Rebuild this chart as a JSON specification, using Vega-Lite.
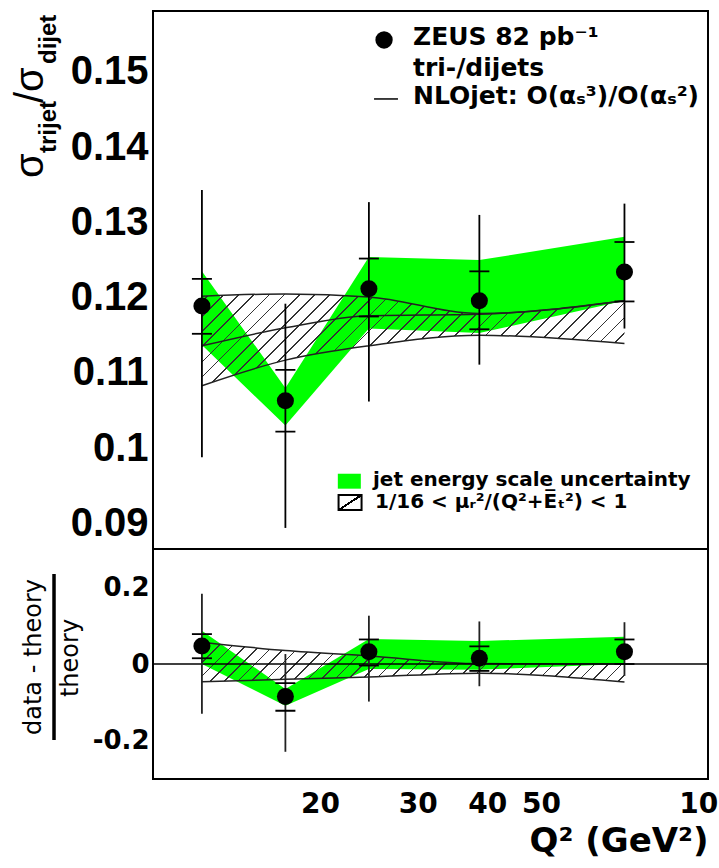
{
  "$schema": "https://vega.github.io/schema/vega-lite/v6.json",
  "padding": {"left": 10, "top": 9, "right": 0, "bottom": 0},
  "autosize": {"type": "pad"},
  "background": "white",
  "spacing": 0,
  "bounds": "flush",
  "datasets": {
    "bins": [
      {"q2": 12.25, "ratio": 0.1189, "stat_lo": 0.1152, "stat_hi": 0.1225, "tot_lo": 0.0988, "tot_hi": 0.1343, "jes_lo": 0.1137, "jes_hi": 0.1235, "nlo": 0.1136, "nlo_lo": 0.1083, "nlo_hi": 0.1202, "rel": 0.047, "rel_stat_lo": 0.015, "rel_stat_hi": 0.078, "rel_tot_lo": -0.130, "rel_tot_hi": 0.183, "rel_jes_lo": 0.000, "rel_jes_hi": 0.087, "rel_nlo_lo": -0.046, "rel_nlo_hi": 0.057},
      {"q2": 17.32, "ratio": 0.1063, "stat_lo": 0.1022, "stat_hi": 0.1104, "tot_lo": 0.0894, "tot_hi": 0.1192, "jes_lo": 0.1030, "jes_hi": 0.1080, "nlo": 0.1160, "nlo_lo": 0.1117, "nlo_hi": 0.1205, "rel": -0.085, "rel_stat_lo": -0.122, "rel_stat_hi": -0.050, "rel_tot_lo": -0.229, "rel_tot_hi": 0.026, "rel_jes_lo": -0.109, "rel_jes_hi": -0.065, "rel_nlo_lo": -0.040, "rel_nlo_hi": 0.035},
      {"q2": 24.49, "ratio": 0.1212, "stat_lo": 0.1175, "stat_hi": 0.1252, "tot_lo": 0.1062, "tot_hi": 0.1327, "jes_lo": 0.1159, "jes_hi": 0.1254, "nlo": 0.1176, "nlo_lo": 0.1136, "nlo_hi": 0.1201, "rel": 0.032, "rel_stat_lo": -0.004, "rel_stat_hi": 0.064, "rel_tot_lo": -0.098, "rel_tot_hi": 0.126, "rel_jes_lo": -0.013, "rel_jes_hi": 0.065, "rel_nlo_lo": -0.034, "rel_nlo_hi": 0.021},
      {"q2": 38.73, "ratio": 0.1196, "stat_lo": 0.1158, "stat_hi": 0.1235, "tot_lo": 0.1111, "tot_hi": 0.1310, "jes_lo": 0.1153, "jes_hi": 0.1250, "nlo": 0.1178, "nlo_lo": 0.1150, "nlo_hi": 0.1179, "rel": 0.015, "rel_stat_lo": -0.018, "rel_stat_hi": 0.046, "rel_tot_lo": -0.058, "rel_tot_hi": 0.111, "rel_jes_lo": -0.015, "rel_jes_hi": 0.060, "rel_nlo_lo": -0.024, "rel_nlo_hi": 0.001},
      {"q2": 70.71, "ratio": 0.1234, "stat_lo": 0.1195, "stat_hi": 0.1274, "tot_lo": 0.1159, "tot_hi": 0.1325, "jes_lo": 0.1196, "jes_hi": 0.1281, "nlo": 0.1196, "nlo_lo": 0.1139, "nlo_hi": 0.1196, "rel": 0.032, "rel_stat_lo": 0.000, "rel_stat_hi": 0.064, "rel_tot_lo": -0.031, "rel_tot_hi": 0.109, "rel_jes_lo": 0.000, "rel_jes_hi": 0.071, "rel_nlo_lo": -0.047, "rel_nlo_hi": 0.000}
    ]
  },
  "config": {
    "font": "Liberation Sans",
    "view": {"stroke": "black", "strokeWidth": 2},
    "axis": {"domain": false, "grid": false, "tickColor": "black", "tickWidth": 2, "tickSize": 0, "labelColor": "black", "labelFontWeight": "bold", "labelFlush": false, "labelOverlap": false, "labelBound": false, "titleColor": "black"}
  },
  "vconcat": [
    {
      "width": 555,
      "height": 538,
      "data": {"name": "bins"},
      "resolve": {"axis": {"x": "independent", "y": "independent"}},
      "layer": [
        {
          "mark": {"type": "area", "color": "#00ff00", "opacity": 1},
          "encoding": {
            "x": {"field": "q2", "type": "quantitative", "scale": {"type": "log", "domain": [10, 100], "nice": false},
              "axis": {"orient": "bottom", "values": [10,20,30,40,50,60,70,80,90,100], "labels": false, "title": null, "encode": {"ticks": {"update": {"y2": {"value": -8}}}}}},
            "y": {"field": "jes_lo", "type": "quantitative", "scale": {"domain": [0.0866, 0.1581], "nice": false, "zero": false},
              "axis": {"orient": "left", "values": [0.088,0.09,0.092,0.094,0.096,0.098,0.1,0.102,0.104,0.106,0.108,0.11,0.112,0.114,0.116,0.118,0.12,0.122,0.124,0.126,0.128,0.13,0.132,0.134,0.136,0.138,0.14,0.142,0.144,0.146,0.148,0.15,0.152,0.154,0.156,0.158],
                "title": null,
                "labelExpr": "abs(datum.value*100-round(datum.value*100))<0.001 ? toString(round(datum.value*100)/100) : ''",
                "labelFont": "Liberation Sans", "labelFontSize": {"condition": {"test": "abs(datum.value*100-round(datum.value*100))<0.001", "value": 40}, "value": 0},
                "labelPadding": 5,
                "encode": {"ticks": {"update": {"x2": {"signal": "abs(datum.value*100-round(datum.value*100))<0.001 ? 22 : 12"}}}}}},
            "y2": {"field": "jes_hi"}
          }
        },
        {
          "mark": {"type": "area", "interpolate": "monotone", "opacity": 1,
            "fill": {"gradient": "linear", "x1": 0, "y1": 0, "x2": 1.1624, "y2": 0.2525, "stops": [
              {"offset":0,"color":"rgba(0,0,0,0)"},
              {"offset":0.0130,"color":"rgba(0,0,0,0)"},{"offset":0.0130,"color":"#333"},{"offset":0.0164,"color":"#333"},{"offset":0.0164,"color":"rgba(0,0,0,0)"},
              {"offset":0.0424,"color":"rgba(0,0,0,0)"},{"offset":0.0424,"color":"#333"},{"offset":0.0458,"color":"#333"},{"offset":0.0458,"color":"rgba(0,0,0,0)"},
              {"offset":0.0718,"color":"rgba(0,0,0,0)"},{"offset":0.0718,"color":"#333"},{"offset":0.0752,"color":"#333"},{"offset":0.0752,"color":"rgba(0,0,0,0)"},
              {"offset":0.1012,"color":"rgba(0,0,0,0)"},{"offset":0.1012,"color":"#333"},{"offset":0.1046,"color":"#333"},{"offset":0.1046,"color":"rgba(0,0,0,0)"},
              {"offset":0.1307,"color":"rgba(0,0,0,0)"},{"offset":0.1307,"color":"#333"},{"offset":0.1341,"color":"#333"},{"offset":0.1341,"color":"rgba(0,0,0,0)"},
              {"offset":0.1601,"color":"rgba(0,0,0,0)"},{"offset":0.1601,"color":"#333"},{"offset":0.1635,"color":"#333"},{"offset":0.1635,"color":"rgba(0,0,0,0)"},
              {"offset":0.1895,"color":"rgba(0,0,0,0)"},{"offset":0.1895,"color":"#333"},{"offset":0.1929,"color":"#333"},{"offset":0.1929,"color":"rgba(0,0,0,0)"},
              {"offset":0.2189,"color":"rgba(0,0,0,0)"},{"offset":0.2189,"color":"#333"},{"offset":0.2223,"color":"#333"},{"offset":0.2223,"color":"rgba(0,0,0,0)"},
              {"offset":0.2483,"color":"rgba(0,0,0,0)"},{"offset":0.2483,"color":"#333"},{"offset":0.2517,"color":"#333"},{"offset":0.2517,"color":"rgba(0,0,0,0)"},
              {"offset":0.2777,"color":"rgba(0,0,0,0)"},{"offset":0.2777,"color":"#333"},{"offset":0.2811,"color":"#333"},{"offset":0.2811,"color":"rgba(0,0,0,0)"},
              {"offset":0.3071,"color":"rgba(0,0,0,0)"},{"offset":0.3071,"color":"#333"},{"offset":0.3105,"color":"#333"},{"offset":0.3105,"color":"rgba(0,0,0,0)"},
              {"offset":0.3365,"color":"rgba(0,0,0,0)"},{"offset":0.3365,"color":"#333"},{"offset":0.3399,"color":"#333"},{"offset":0.3399,"color":"rgba(0,0,0,0)"},
              {"offset":0.3659,"color":"rgba(0,0,0,0)"},{"offset":0.3659,"color":"#333"},{"offset":0.3693,"color":"#333"},{"offset":0.3693,"color":"rgba(0,0,0,0)"},
              {"offset":0.3954,"color":"rgba(0,0,0,0)"},{"offset":0.3954,"color":"#333"},{"offset":0.3988,"color":"#333"},{"offset":0.3988,"color":"rgba(0,0,0,0)"},
              {"offset":0.4248,"color":"rgba(0,0,0,0)"},{"offset":0.4248,"color":"#333"},{"offset":0.4282,"color":"#333"},{"offset":0.4282,"color":"rgba(0,0,0,0)"},
              {"offset":0.4542,"color":"rgba(0,0,0,0)"},{"offset":0.4542,"color":"#333"},{"offset":0.4576,"color":"#333"},{"offset":0.4576,"color":"rgba(0,0,0,0)"},
              {"offset":0.4836,"color":"rgba(0,0,0,0)"},{"offset":0.4836,"color":"#333"},{"offset":0.4870,"color":"#333"},{"offset":0.4870,"color":"rgba(0,0,0,0)"},
              {"offset":0.5130,"color":"rgba(0,0,0,0)"},{"offset":0.5130,"color":"#333"},{"offset":0.5164,"color":"#333"},{"offset":0.5164,"color":"rgba(0,0,0,0)"},
              {"offset":0.5424,"color":"rgba(0,0,0,0)"},{"offset":0.5424,"color":"#333"},{"offset":0.5458,"color":"#333"},{"offset":0.5458,"color":"rgba(0,0,0,0)"},
              {"offset":0.5718,"color":"rgba(0,0,0,0)"},{"offset":0.5718,"color":"#333"},{"offset":0.5752,"color":"#333"},{"offset":0.5752,"color":"rgba(0,0,0,0)"},
              {"offset":0.6012,"color":"rgba(0,0,0,0)"},{"offset":0.6012,"color":"#333"},{"offset":0.6046,"color":"#333"},{"offset":0.6046,"color":"rgba(0,0,0,0)"},
              {"offset":0.6307,"color":"rgba(0,0,0,0)"},{"offset":0.6307,"color":"#333"},{"offset":0.6341,"color":"#333"},{"offset":0.6341,"color":"rgba(0,0,0,0)"},
              {"offset":0.6601,"color":"rgba(0,0,0,0)"},{"offset":0.6601,"color":"#333"},{"offset":0.6635,"color":"#333"},{"offset":0.6635,"color":"rgba(0,0,0,0)"},
              {"offset":0.6895,"color":"rgba(0,0,0,0)"},{"offset":0.6895,"color":"#333"},{"offset":0.6929,"color":"#333"},{"offset":0.6929,"color":"rgba(0,0,0,0)"},
              {"offset":0.7189,"color":"rgba(0,0,0,0)"},{"offset":0.7189,"color":"#333"},{"offset":0.7223,"color":"#333"},{"offset":0.7223,"color":"rgba(0,0,0,0)"},
              {"offset":0.7483,"color":"rgba(0,0,0,0)"},{"offset":0.7483,"color":"#333"},{"offset":0.7517,"color":"#333"},{"offset":0.7517,"color":"rgba(0,0,0,0)"},
              {"offset":0.7777,"color":"rgba(0,0,0,0)"},{"offset":0.7777,"color":"#333"},{"offset":0.7811,"color":"#333"},{"offset":0.7811,"color":"rgba(0,0,0,0)"},
              {"offset":0.8071,"color":"rgba(0,0,0,0)"},{"offset":0.8071,"color":"#333"},{"offset":0.8105,"color":"#333"},{"offset":0.8105,"color":"rgba(0,0,0,0)"},
              {"offset":0.8365,"color":"rgba(0,0,0,0)"},{"offset":0.8365,"color":"#333"},{"offset":0.8399,"color":"#333"},{"offset":0.8399,"color":"rgba(0,0,0,0)"},
              {"offset":0.8659,"color":"rgba(0,0,0,0)"},{"offset":0.8659,"color":"#333"},{"offset":0.8693,"color":"#333"},{"offset":0.8693,"color":"rgba(0,0,0,0)"},
              {"offset":0.8954,"color":"rgba(0,0,0,0)"},{"offset":0.8954,"color":"#333"},{"offset":0.8988,"color":"#333"},{"offset":0.8988,"color":"rgba(0,0,0,0)"},
              {"offset":0.9248,"color":"rgba(0,0,0,0)"},{"offset":0.9248,"color":"#333"},{"offset":0.9282,"color":"#333"},{"offset":0.9282,"color":"rgba(0,0,0,0)"},
              {"offset":0.9542,"color":"rgba(0,0,0,0)"},{"offset":0.9542,"color":"#333"},{"offset":0.9576,"color":"#333"},{"offset":0.9576,"color":"rgba(0,0,0,0)"},
              {"offset":0.9836,"color":"rgba(0,0,0,0)"},{"offset":0.9836,"color":"#333"},{"offset":0.9870,"color":"#333"},{"offset":0.9870,"color":"rgba(0,0,0,0)"},
              {"offset":1,"color":"rgba(0,0,0,0)"}
            ]}},
          "encoding": {
            "x": {"field": "q2", "type": "quantitative",
              "axis": {"orient": "top", "values": [10,20,30,40,50,60,70,80,90,100], "labels": false, "title": null, "encode": {"ticks": {"update": {"y2": {"value": 8}}}}}},
            "y": {"field": "nlo_lo", "type": "quantitative",
              "axis": {"orient": "right", "values": [0.088,0.09,0.092,0.094,0.096,0.098,0.1,0.102,0.104,0.106,0.108,0.11,0.112,0.114,0.116,0.118,0.12,0.122,0.124,0.126,0.128,0.13,0.132,0.134,0.136,0.138,0.14,0.142,0.144,0.146,0.148,0.15,0.152,0.154,0.156,0.158],
                "labels": false, "title": null,
                "encode": {"ticks": {"update": {"x2": {"signal": "abs(datum.value*100-round(datum.value*100))<0.001 ? -22 : -12"}}}}}},
            "y2": {"field": "nlo_hi"}
          }
        },
        {
          "mark": {"type": "line", "interpolate": "monotone", "color": "#222", "strokeWidth": 1.5},
          "encoding": {"x": {"field": "q2", "type": "quantitative", "axis": null}, "y": {"field": "nlo_hi", "type": "quantitative", "axis": null}}
        },
        {
          "mark": {"type": "line", "interpolate": "monotone", "color": "#222", "strokeWidth": 1.5},
          "encoding": {"x": {"field": "q2", "type": "quantitative", "axis": null}, "y": {"field": "nlo_lo", "type": "quantitative", "axis": null}}
        },
        {
          "mark": {"type": "line", "interpolate": "monotone", "color": "#222", "strokeWidth": 1.5},
          "encoding": {"x": {"field": "q2", "type": "quantitative", "axis": null}, "y": {"field": "nlo", "type": "quantitative", "axis": null}}
        },
        {
          "mark": {"type": "rule", "color": "black", "strokeWidth": 1.8},
          "encoding": {"x": {"field": "q2", "type": "quantitative", "axis": null}, "y": {"field": "tot_lo", "type": "quantitative", "axis": null}, "y2": {"field": "tot_hi"}}
        },
        {
          "transform": [{"fold": ["stat_lo", "stat_hi"], "as": ["which", "val"]}],
          "mark": {"type": "tick", "orient": "horizontal", "color": "black", "size": 20, "thickness": 1.8, "opacity": 1},
          "encoding": {"x": {"field": "q2", "type": "quantitative", "axis": null}, "y": {"field": "val", "type": "quantitative", "axis": null}}
        },
        {
          "mark": {"type": "point", "shape": "circle", "filled": true, "color": "black", "size": 290, "opacity": 1},
          "encoding": {"x": {"field": "q2", "type": "quantitative", "axis": null}, "y": {"field": "ratio", "type": "quantitative", "axis": null}}
        },
        {
          "data": {"values": [{}]},
          "mark": {"type": "point", "shape": "circle", "filled": true, "color": "black", "size": 300, "opacity": 1},
          "encoding": {"x": {"datum": 26.08, "type": "quantitative", "axis": null}, "y": {"datum": 0.15425, "type": "quantitative", "axis": null}}
        },
        {
          "data": {"values": [{}]},
          "mark": {"type": "text", "text": "ZEUS 82 pb⁻¹", "font": "DejaVu Sans", "fontWeight": "bold", "fontSize": 25, "align": "left", "baseline": "alphabetic", "color": "black"},
          "encoding": {"x": {"datum": 29.41, "type": "quantitative", "axis": null}, "y": {"datum": 0.15358, "type": "quantitative", "axis": null}}
        },
        {
          "data": {"values": [{}]},
          "mark": {"type": "text", "text": "tri-/dijets", "font": "DejaVu Sans", "fontWeight": "bold", "fontSize": 25, "align": "left", "baseline": "alphabetic", "color": "black"},
          "encoding": {"x": {"datum": 29.41, "type": "quantitative", "axis": null}, "y": {"datum": 0.14946, "type": "quantitative", "axis": null}}
        },
        {
          "data": {"values": [{}]},
          "mark": {"type": "rule", "color": "black", "strokeWidth": 1.5},
          "encoding": {"x": {"datum": 25.02, "type": "quantitative", "axis": null}, "x2": {"datum": 27.63}, "y": {"datum": 0.14641, "type": "quantitative", "axis": null}}
        },
        {
          "data": {"values": [{}]},
          "mark": {"type": "text", "text": "NLOjet: O(αₛ³)/O(αₛ²)", "font": "DejaVu Sans", "fontWeight": "bold", "fontSize": 25, "align": "left", "baseline": "alphabetic", "color": "black"},
          "encoding": {"x": {"datum": 29.41, "type": "quantitative", "axis": null}, "y": {"datum": 0.14574, "type": "quantitative", "axis": null}}
        },
        {
          "data": {"values": [{}]},
          "mark": {"type": "point", "shape": "M-1,-0.65L1,-0.65L1,0.65L-1,0.65Z", "filled": true, "color": "#00ff00", "size": 529, "opacity": 1, "strokeWidth": 0},
          "encoding": {"x": {"datum": 22.58, "type": "quantitative", "axis": null}, "y": {"datum": 0.09561, "type": "quantitative", "axis": null}}
        },
        {
          "data": {"values": [{}]},
          "mark": {"type": "text", "text": "jet energy scale uncertainty", "font": "DejaVu Sans", "fontWeight": "bold", "fontSize": 20, "align": "left", "baseline": "alphabetic", "color": "black"},
          "encoding": {"x": {"datum": 24.91, "type": "quantitative", "axis": null}, "y": {"datum": 0.09493, "type": "quantitative", "axis": null}}
        },
        {
          "data": {"values": [{}]},
          "mark": {"type": "point", "shape": "M-1,-0.65L1,-0.65L1,0.65L-1,0.65Z", "filled": true, "size": 529, "opacity": 1, "stroke": "black", "strokeWidth": 2,
            "fill": {"gradient": "linear", "x1": 0, "y1": 0, "x2": 1, "y2": 1, "stops": [
              {"offset":0,"color":"rgba(0,0,0,0)"},{"offset":0.46,"color":"rgba(0,0,0,0)"},{"offset":0.46,"color":"#000"},{"offset":0.54,"color":"#000"},{"offset":0.54,"color":"rgba(0,0,0,0)"},{"offset":1,"color":"rgba(0,0,0,0)"}]}},
          "encoding": {"x": {"datum": 22.65, "type": "quantitative", "axis": null}, "y": {"datum": 0.09278, "type": "quantitative", "axis": null}}
        },
        {
          "data": {"values": [{}]},
          "mark": {"type": "text", "text": "1/16 < μᵣ²/(Q²+E̅ₜ²) < 1", "font": "DejaVu Sans", "fontWeight": "bold", "fontSize": 20, "align": "left", "baseline": "alphabetic", "color": "black"},
          "encoding": {"x": {"datum": 25.12, "type": "quantitative", "axis": null}, "y": {"datum": 0.09205, "type": "quantitative", "axis": null}}
        },
        {
          "data": {"values": [{}]},
          "mark": {"type": "text", "text": "σ", "font": "Liberation Sans", "fontSize": 40, "angle": 270, "align": "left", "baseline": "alphabetic", "color": "black"},
          "encoding": {"x": {"datum": 6.336, "type": "quantitative", "axis": null}, "y": {"datum": 0.13591, "type": "quantitative", "axis": null}}
        },
        {
          "data": {"values": [{}]},
          "mark": {"type": "text", "text": "trijet", "font": "Liberation Sans", "fontWeight": "bold", "fontSize": 24, "angle": 270, "align": "left", "baseline": "alphabetic", "color": "black"},
          "encoding": {"x": {"datum": 6.687, "type": "quantitative", "axis": null}, "y": {"datum": 0.13923, "type": "quantitative", "axis": null}}
        },
        {
          "data": {"values": [{}]},
          "mark": {"type": "text", "text": "/σ", "font": "Liberation Sans", "fontSize": 40, "angle": 270, "align": "left", "baseline": "alphabetic", "color": "black"},
          "encoding": {"x": {"datum": 6.336, "type": "quantitative", "axis": null}, "y": {"datum": 0.14587, "type": "quantitative", "axis": null}}
        },
        {
          "data": {"values": [{}]},
          "mark": {"type": "text", "text": "dijet", "font": "Liberation Sans", "fontWeight": "bold", "fontSize": 24, "angle": 270, "align": "left", "baseline": "alphabetic", "color": "black"},
          "encoding": {"x": {"datum": 6.687, "type": "quantitative", "axis": null}, "y": {"datum": 0.15106, "type": "quantitative", "axis": null}}
        }
      ]
    },
    {
      "width": 555,
      "height": 230,
      "data": {"name": "bins"},
      "resolve": {"axis": {"x": "independent", "y": "independent"}},
      "layer": [
        {
          "mark": {"type": "area", "color": "#00ff00", "opacity": 1},
          "encoding": {
            "x": {"field": "q2", "type": "quantitative", "scale": {"type": "log", "domain": [10, 100], "nice": false},
              "axis": {"orient": "bottom", "values": [10,20,30,40,50,60,70,80,90,100],
                "labelExpr": "indexof([20,30,40,50,100], datum.value) >= 0 ? toString(datum.value) : ''",
                "labelFont": "DejaVu Sans", "labelFontSize": 28, "labelPadding": 11,
                "title": "Q² (GeV²)", "titleFont": "DejaVu Sans", "titleFontSize": 34, "titleFontWeight": "bold", "titleAnchor": "end", "titleAlign": "right", "titlePadding": 6,
                "encode": {"ticks": {"update": {"y2": {"value": -8}}}}}},
            "y": {"field": "rel_jes_lo", "type": "quantitative", "scale": {"domain": [-0.3, 0.3], "nice": false, "zero": false},
              "axis": {"orient": "left", "values": [-0.3,-0.25,-0.2,-0.15,-0.1,-0.05,0,0.05,0.1,0.15,0.2,0.25,0.3],
                "title": null,
                "labelExpr": "abs(datum.value*5-round(datum.value*5))<0.001 ? toString(round(datum.value*10)/10) : ''",
                "labelFont": "DejaVu Sans", "labelFontSize": 26, "labelPadding": 4,
                "encode": {"ticks": {"update": {"x2": {"signal": "abs(datum.value*5-round(datum.value*5))<0.001 ? 23 : 12"}}}}}},
            "y2": {"field": "rel_jes_hi"}
          }
        },
        {
          "mark": {"type": "area", "interpolate": "monotone", "opacity": 1,
            "fill": {"gradient": "linear", "x1": 0, "y1": 0, "x2": 1.0847, "y2": 0.1023, "stops": [
              {"offset":0,"color":"rgba(0,0,0,0)"},
              {"offset":0.0130,"color":"rgba(0,0,0,0)"},{"offset":0.0130,"color":"#333"},{"offset":0.0164,"color":"#333"},{"offset":0.0164,"color":"rgba(0,0,0,0)"},
              {"offset":0.0424,"color":"rgba(0,0,0,0)"},{"offset":0.0424,"color":"#333"},{"offset":0.0458,"color":"#333"},{"offset":0.0458,"color":"rgba(0,0,0,0)"},
              {"offset":0.0718,"color":"rgba(0,0,0,0)"},{"offset":0.0718,"color":"#333"},{"offset":0.0752,"color":"#333"},{"offset":0.0752,"color":"rgba(0,0,0,0)"},
              {"offset":0.1012,"color":"rgba(0,0,0,0)"},{"offset":0.1012,"color":"#333"},{"offset":0.1046,"color":"#333"},{"offset":0.1046,"color":"rgba(0,0,0,0)"},
              {"offset":0.1307,"color":"rgba(0,0,0,0)"},{"offset":0.1307,"color":"#333"},{"offset":0.1341,"color":"#333"},{"offset":0.1341,"color":"rgba(0,0,0,0)"},
              {"offset":0.1601,"color":"rgba(0,0,0,0)"},{"offset":0.1601,"color":"#333"},{"offset":0.1635,"color":"#333"},{"offset":0.1635,"color":"rgba(0,0,0,0)"},
              {"offset":0.1895,"color":"rgba(0,0,0,0)"},{"offset":0.1895,"color":"#333"},{"offset":0.1929,"color":"#333"},{"offset":0.1929,"color":"rgba(0,0,0,0)"},
              {"offset":0.2189,"color":"rgba(0,0,0,0)"},{"offset":0.2189,"color":"#333"},{"offset":0.2223,"color":"#333"},{"offset":0.2223,"color":"rgba(0,0,0,0)"},
              {"offset":0.2483,"color":"rgba(0,0,0,0)"},{"offset":0.2483,"color":"#333"},{"offset":0.2517,"color":"#333"},{"offset":0.2517,"color":"rgba(0,0,0,0)"},
              {"offset":0.2777,"color":"rgba(0,0,0,0)"},{"offset":0.2777,"color":"#333"},{"offset":0.2811,"color":"#333"},{"offset":0.2811,"color":"rgba(0,0,0,0)"},
              {"offset":0.3071,"color":"rgba(0,0,0,0)"},{"offset":0.3071,"color":"#333"},{"offset":0.3105,"color":"#333"},{"offset":0.3105,"color":"rgba(0,0,0,0)"},
              {"offset":0.3365,"color":"rgba(0,0,0,0)"},{"offset":0.3365,"color":"#333"},{"offset":0.3399,"color":"#333"},{"offset":0.3399,"color":"rgba(0,0,0,0)"},
              {"offset":0.3659,"color":"rgba(0,0,0,0)"},{"offset":0.3659,"color":"#333"},{"offset":0.3693,"color":"#333"},{"offset":0.3693,"color":"rgba(0,0,0,0)"},
              {"offset":0.3954,"color":"rgba(0,0,0,0)"},{"offset":0.3954,"color":"#333"},{"offset":0.3988,"color":"#333"},{"offset":0.3988,"color":"rgba(0,0,0,0)"},
              {"offset":0.4248,"color":"rgba(0,0,0,0)"},{"offset":0.4248,"color":"#333"},{"offset":0.4282,"color":"#333"},{"offset":0.4282,"color":"rgba(0,0,0,0)"},
              {"offset":0.4542,"color":"rgba(0,0,0,0)"},{"offset":0.4542,"color":"#333"},{"offset":0.4576,"color":"#333"},{"offset":0.4576,"color":"rgba(0,0,0,0)"},
              {"offset":0.4836,"color":"rgba(0,0,0,0)"},{"offset":0.4836,"color":"#333"},{"offset":0.4870,"color":"#333"},{"offset":0.4870,"color":"rgba(0,0,0,0)"},
              {"offset":0.5130,"color":"rgba(0,0,0,0)"},{"offset":0.5130,"color":"#333"},{"offset":0.5164,"color":"#333"},{"offset":0.5164,"color":"rgba(0,0,0,0)"},
              {"offset":0.5424,"color":"rgba(0,0,0,0)"},{"offset":0.5424,"color":"#333"},{"offset":0.5458,"color":"#333"},{"offset":0.5458,"color":"rgba(0,0,0,0)"},
              {"offset":0.5718,"color":"rgba(0,0,0,0)"},{"offset":0.5718,"color":"#333"},{"offset":0.5752,"color":"#333"},{"offset":0.5752,"color":"rgba(0,0,0,0)"},
              {"offset":0.6012,"color":"rgba(0,0,0,0)"},{"offset":0.6012,"color":"#333"},{"offset":0.6046,"color":"#333"},{"offset":0.6046,"color":"rgba(0,0,0,0)"},
              {"offset":0.6307,"color":"rgba(0,0,0,0)"},{"offset":0.6307,"color":"#333"},{"offset":0.6341,"color":"#333"},{"offset":0.6341,"color":"rgba(0,0,0,0)"},
              {"offset":0.6601,"color":"rgba(0,0,0,0)"},{"offset":0.6601,"color":"#333"},{"offset":0.6635,"color":"#333"},{"offset":0.6635,"color":"rgba(0,0,0,0)"},
              {"offset":0.6895,"color":"rgba(0,0,0,0)"},{"offset":0.6895,"color":"#333"},{"offset":0.6929,"color":"#333"},{"offset":0.6929,"color":"rgba(0,0,0,0)"},
              {"offset":0.7189,"color":"rgba(0,0,0,0)"},{"offset":0.7189,"color":"#333"},{"offset":0.7223,"color":"#333"},{"offset":0.7223,"color":"rgba(0,0,0,0)"},
              {"offset":0.7483,"color":"rgba(0,0,0,0)"},{"offset":0.7483,"color":"#333"},{"offset":0.7517,"color":"#333"},{"offset":0.7517,"color":"rgba(0,0,0,0)"},
              {"offset":0.7777,"color":"rgba(0,0,0,0)"},{"offset":0.7777,"color":"#333"},{"offset":0.7811,"color":"#333"},{"offset":0.7811,"color":"rgba(0,0,0,0)"},
              {"offset":0.8071,"color":"rgba(0,0,0,0)"},{"offset":0.8071,"color":"#333"},{"offset":0.8105,"color":"#333"},{"offset":0.8105,"color":"rgba(0,0,0,0)"},
              {"offset":0.8365,"color":"rgba(0,0,0,0)"},{"offset":0.8365,"color":"#333"},{"offset":0.8399,"color":"#333"},{"offset":0.8399,"color":"rgba(0,0,0,0)"},
              {"offset":0.8659,"color":"rgba(0,0,0,0)"},{"offset":0.8659,"color":"#333"},{"offset":0.8693,"color":"#333"},{"offset":0.8693,"color":"rgba(0,0,0,0)"},
              {"offset":0.8954,"color":"rgba(0,0,0,0)"},{"offset":0.8954,"color":"#333"},{"offset":0.8988,"color":"#333"},{"offset":0.8988,"color":"rgba(0,0,0,0)"},
              {"offset":0.9248,"color":"rgba(0,0,0,0)"},{"offset":0.9248,"color":"#333"},{"offset":0.9282,"color":"#333"},{"offset":0.9282,"color":"rgba(0,0,0,0)"},
              {"offset":0.9542,"color":"rgba(0,0,0,0)"},{"offset":0.9542,"color":"#333"},{"offset":0.9576,"color":"#333"},{"offset":0.9576,"color":"rgba(0,0,0,0)"},
              {"offset":0.9836,"color":"rgba(0,0,0,0)"},{"offset":0.9836,"color":"#333"},{"offset":0.9870,"color":"#333"},{"offset":0.9870,"color":"rgba(0,0,0,0)"},
              {"offset":1,"color":"rgba(0,0,0,0)"}
            ]}},
          "encoding": {
            "x": {"field": "q2", "type": "quantitative",
              "axis": {"orient": "top", "values": [10,20,30,40,50,60,70,80,90,100], "labels": false, "title": null, "encode": {"ticks": {"update": {"y2": {"value": 8}}}}}},
            "y": {"field": "rel_nlo_lo", "type": "quantitative",
              "axis": {"orient": "right", "values": [-0.3,-0.25,-0.2,-0.15,-0.1,-0.05,0,0.05,0.1,0.15,0.2,0.25,0.3],
                "labels": false, "title": null,
                "encode": {"ticks": {"update": {"x2": {"signal": "abs(datum.value*5-round(datum.value*5))<0.001 ? -23 : -12"}}}}}},
            "y2": {"field": "rel_nlo_hi"}
          }
        },
        {
          "mark": {"type": "line", "interpolate": "monotone", "color": "#222", "strokeWidth": 1.5},
          "encoding": {"x": {"field": "q2", "type": "quantitative", "axis": null}, "y": {"field": "rel_nlo_hi", "type": "quantitative", "axis": null}}
        },
        {
          "mark": {"type": "line", "interpolate": "monotone", "color": "#222", "strokeWidth": 1.5},
          "encoding": {"x": {"field": "q2", "type": "quantitative", "axis": null}, "y": {"field": "rel_nlo_lo", "type": "quantitative", "axis": null}}
        },
        {
          "data": {"values": [{}]},
          "mark": {"type": "rule", "color": "black", "strokeWidth": 1.5},
          "encoding": {"y": {"datum": 0, "type": "quantitative", "axis": null}}
        },
        {
          "mark": {"type": "rule", "color": "#222", "strokeWidth": 1.8},
          "encoding": {"x": {"field": "q2", "type": "quantitative", "axis": null}, "y": {"field": "rel_tot_lo", "type": "quantitative", "axis": null}, "y2": {"field": "rel_tot_hi"}}
        },
        {
          "transform": [{"fold": ["rel_stat_lo", "rel_stat_hi"], "as": ["which", "val"]}],
          "mark": {"type": "tick", "orient": "horizontal", "color": "black", "size": 20, "thickness": 1.8, "opacity": 1},
          "encoding": {"x": {"field": "q2", "type": "quantitative", "axis": null}, "y": {"field": "val", "type": "quantitative", "axis": null}}
        },
        {
          "mark": {"type": "point", "shape": "circle", "filled": true, "color": "black", "size": 290, "opacity": 1},
          "encoding": {"x": {"field": "q2", "type": "quantitative", "axis": null}, "y": {"field": "rel", "type": "quantitative", "axis": null}}
        },
        {
          "data": {"values": [{}]},
          "mark": {"type": "text", "text": "data - theory", "font": "DejaVu Sans", "fontSize": 24, "angle": 270, "align": "center", "baseline": "alphabetic", "color": "black"},
          "encoding": {"x": {"datum": 6.282, "type": "quantitative", "axis": null}, "y": {"datum": 0.0183, "type": "quantitative", "axis": null}}
        },
        {
          "data": {"values": [{}]},
          "mark": {"type": "text", "text": "theory", "font": "DejaVu Sans", "fontSize": 24, "angle": 270, "align": "center", "baseline": "alphabetic", "color": "black"},
          "encoding": {"x": {"datum": 7.325, "type": "quantitative", "axis": null}, "y": {"datum": 0.0157, "type": "quantitative", "axis": null}}
        },
        {
          "data": {"values": [{}]},
          "mark": {"type": "rule", "color": "black", "strokeWidth": 3.5},
          "encoding": {"x": {"datum": 6.632, "type": "quantitative", "axis": null}, "y": {"datum": 0.2348, "type": "quantitative", "axis": null}, "y2": {"datum": -0.1983}}
        }
      ]
    }
  ]
}
